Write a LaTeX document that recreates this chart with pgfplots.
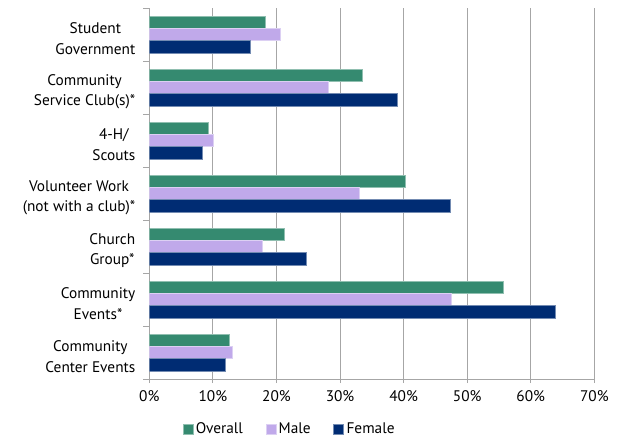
\documentclass[border=0pt]{standalone}
\usepackage{pgfplots}
\pgfplotsset{compat=1.18}
\usepackage{fontspec}
\setmainfont{PT Sans}
\definecolor{overall}{HTML}{358A70}
\definecolor{male}{HTML}{C0A9EA}
\definecolor{female}{HTML}{002C73}
\definecolor{gridgray}{HTML}{A6A6A6}

% values in percent, categories top to bottom
\pgfplotstableread{
cat overall male female
0   18.2    20.6 15.9
1   33.5    28.1 39.0
2   9.2     10.0 8.4
3   40.2    33.1 47.3
4   21.2    17.7 24.7
5   55.7    47.5 63.9
6   12.6    13.1 12.0
}\actdata

\begin{document}
\begin{tikzpicture}
\useasboundingbox (-112pt,-45pt) rectangle (356.75pt,284.25pt);
\begin{axis}[
    at={(0,0)}, anchor=south west,
    scale only axis, width=333.75pt, height=278.25pt,
    font=\fontsize{11.5}{15.2}\selectfont,
    xbar=0pt, bar width=9.25pt,
    xmin=0, xmax=70, xtick={0,10,...,70},
    xticklabel={\pgfmathprintnumber[assume math mode=true]{\tick}\%},
    xticklabel style={yshift=-2.5pt},
    ymin=-0.5, ymax=6.5, y dir=reverse,
    ytick={0,...,6},
    yticklabels={{Student\\Government},{Community\\Service Club(s)*},{4-H/\\Scouts},
      {Volunteer Work\\(not with a club)*},{Church\\Group*},{Community\\Events*},
      {Community\\Center Events}},
    yticklabel style={align=center, xshift=-4pt, yshift=-3pt},
    minor ytick={-0.5,0.5,...,6.5},
    tick align=outside,
    major tick length=3pt, minor tick length=4.5pt,
    major y tick style={draw=none},
    minor y tick style={draw=gridgray, line width=0.75pt},
    major x tick style={draw=gridgray, line width=0.75pt},
    xmajorgrids,
    grid style={draw=gridgray, line width=0.75pt},
    axis x line*=bottom, axis y line*=left,
    axis line style={draw=gridgray, line width=0.75pt, -},
    legend columns=-1,
    legend style={draw=none, at={(0.316,-0.135)}, anchor=center,
      /tikz/every even column/.append style={column sep=15pt}},
    legend image code/.code={\fill[#1] (0pt,-3.75pt) rectangle (7.5pt,3.75pt);},
]
\addplot[fill=overall, draw=white!45!overall, line width=0.4pt, bar shift=9.25pt] table[x=overall, y=cat] {\actdata};
\addplot[fill=male, draw=white!45!male, line width=0.4pt, bar shift=0pt] table[x=male, y=cat] {\actdata};
\addplot[fill=female, draw=white!45!female, line width=0.4pt, bar shift=-9.25pt] table[x=female, y=cat] {\actdata};
\legend{Overall, Male, Female}
\end{axis}
\end{tikzpicture}
\end{document}
